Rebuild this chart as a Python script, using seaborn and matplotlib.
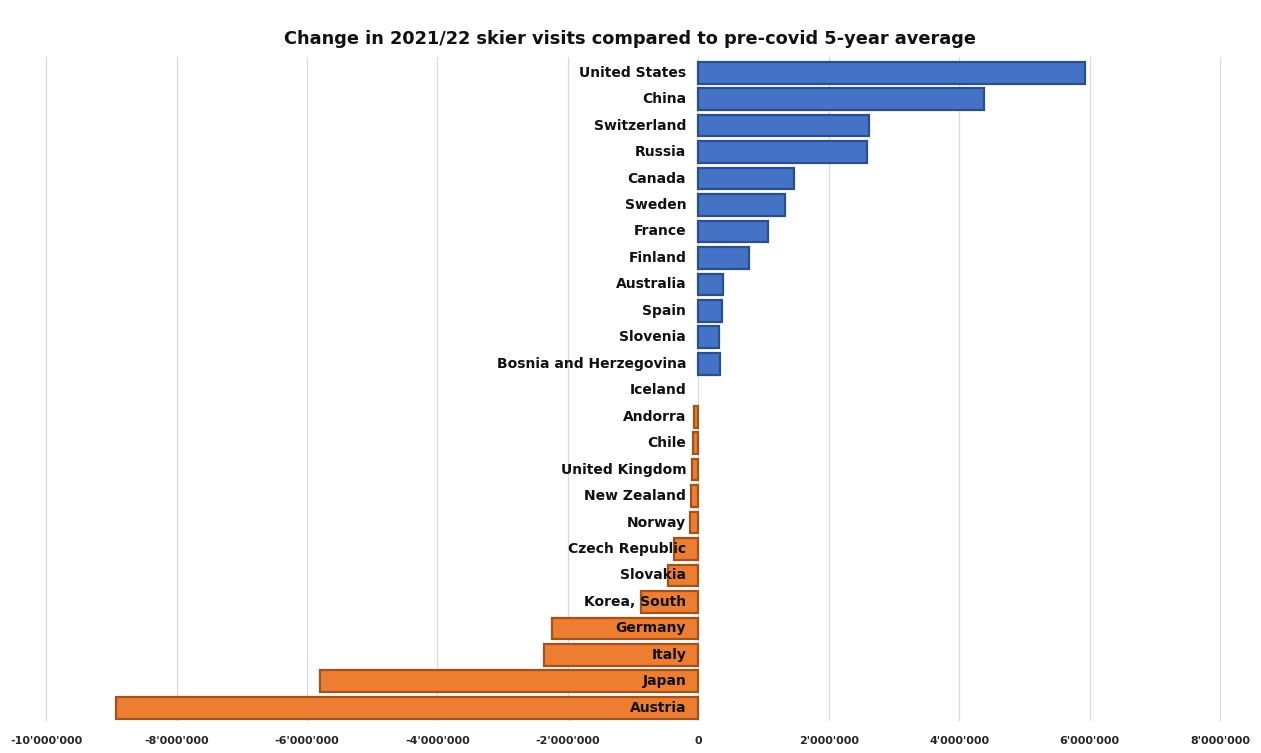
import matplotlib
matplotlib.use("Agg")
import matplotlib.pyplot as plt
import matplotlib.transforms as mtransforms
from matplotlib.ticker import FuncFormatter, MultipleLocator
import seaborn as sns
import pandas as pd

countries = ["United States", "China", "Switzerland", "Russia", "Canada", "Sweden",
             "France", "Finland", "Australia", "Spain", "Slovenia",
             "Bosnia and Herzegovina", "Iceland", "Andorra", "Chile", "United Kingdom",
             "New Zealand", "Norway", "Czech Republic", "Slovakia", "Korea, South",
             "Germany", "Italy", "Japan", "Austria"]
change = [5930000, 4380000, 2620000, 2590000, 1470000, 1330000,
          1070000, 780000, 380000, 370000, 320000,
          340000, 0, -70000, -80000, -90000,
          -110000, -120000, -370000, -460000, -880000,
          -2240000, -2370000, -5800000, -8930000]
title = "Change in 2021/22 skier visits compared to pre-covid 5-year average"

df = pd.DataFrame({"country": countries, "change": change})
df["sign"] = ["gain" if v >= 0 else "loss" for v in df["change"]]

sns.set_theme(style="whitegrid")
plt.rcParams["font.family"] = ["DejaVu Sans"]

fig = plt.figure(figsize=(12.61, 7.53), dpi=100)
ax = fig.add_axes([0.0350, 0.0425, 0.934, 0.882])

palette = {"gain": "#4472C4", "loss": "#ED7D31"}
edges = {"gain": "#2A4F8F", "loss": "#A4521C"}
sns.barplot(data=df, x="change", y="country", hue="sign", palette=palette,
            orient="h", dodge=False, legend=False, width=0.82, ax=ax,
            linewidth=1.6, saturation=1)
for patch in ax.patches:
    fc = patch.get_facecolor()
    if patch.get_width() == 0:
        patch.set_linewidth(0)
    elif fc[2] > fc[0]:
        patch.set_edgecolor(edges["gain"])
    else:
        patch.set_edgecolor(edges["loss"])

ax.set_xlim(-10030000, 8030000)
ax.set_ylim(len(countries) - 0.5, -0.6)
ax.xaxis.set_major_locator(MultipleLocator(2000000))
ax.xaxis.set_major_formatter(FuncFormatter(lambda v, p: f"{int(round(v)):,}".replace(",", "'")))
ax.tick_params(axis="x", length=0, pad=11, labelsize=8)
for lab in ax.get_xticklabels():
    lab.set_fontweight("bold")
ax.grid(axis="x", color="#DADADA", linewidth=0.9)
ax.grid(axis="y", visible=False)
ax.set_yticks([])
ax.set_xlabel("")
ax.set_ylabel("")
for sp in ax.spines.values():
    sp.set_visible(False)

offset = mtransforms.offset_copy(ax.transData, fig=fig, x=-12, y=0, units="dots")
for i, name in enumerate(countries):
    ax.text(0, i, name, transform=offset, ha="right", va="center",
            fontsize=10, fontweight="bold", color="#111111", zorder=5)

fig.suptitle(title, y=1 - 30 / 753, fontsize=12.8, fontweight="bold", color="#111111")

fig.savefig("out.png", dpi=100, facecolor="white")
